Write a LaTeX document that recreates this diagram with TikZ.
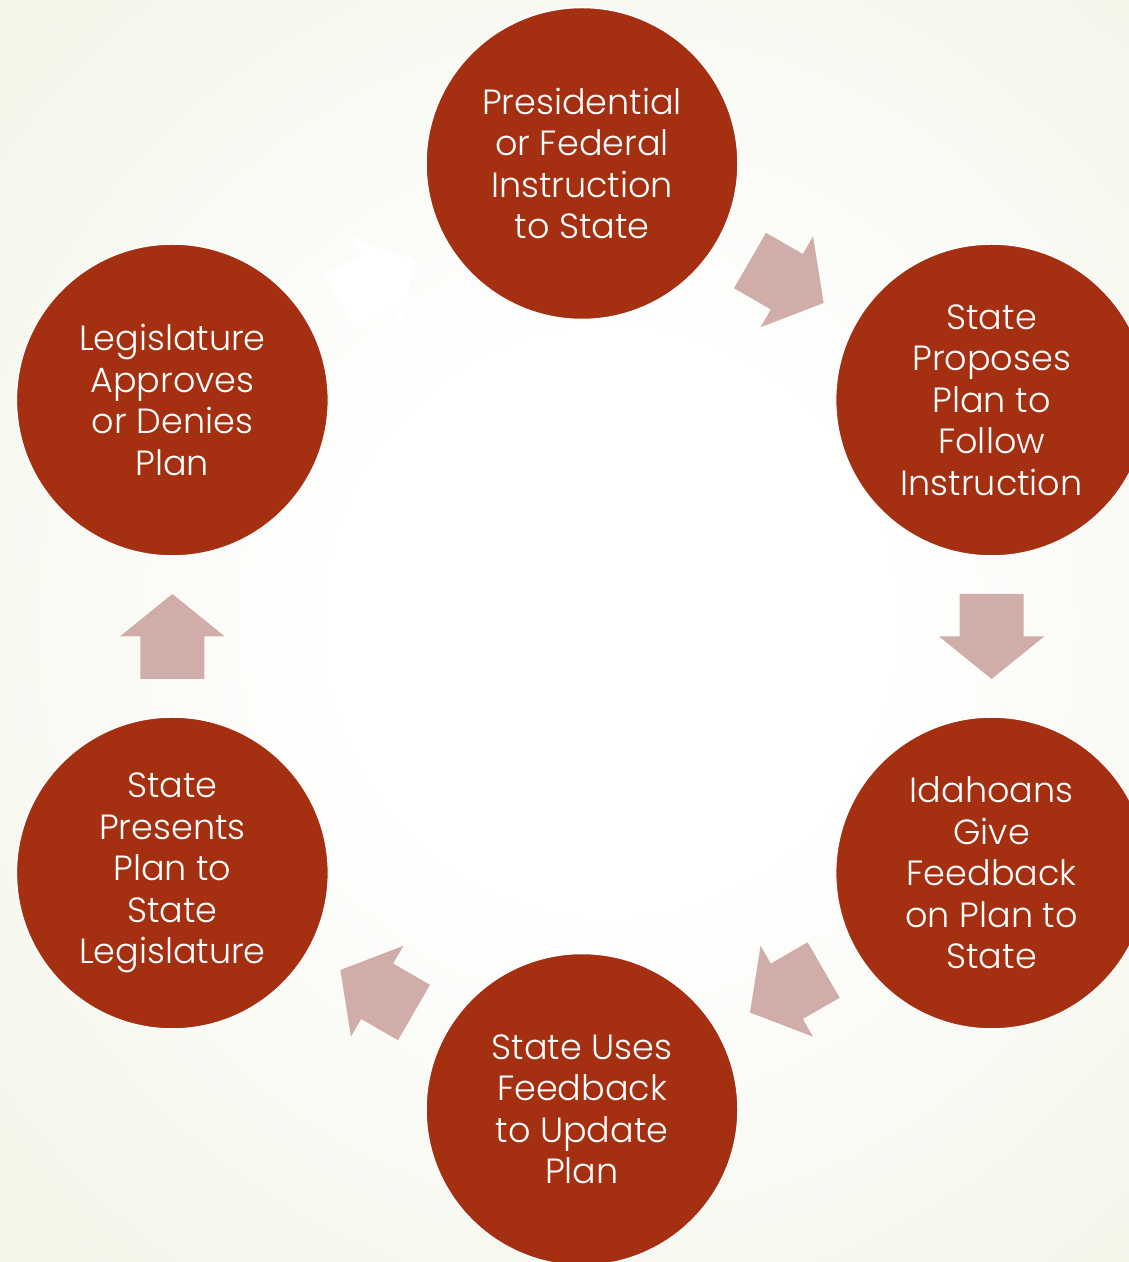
\documentclass[tikz,border=0pt]{standalone}
\usepackage{fontspec}
\setmainfont{Poppins Light}
\usetikzlibrary{calc}
\definecolor{circfill}{HTML}{A52F11}
\definecolor{arrfill}{HTML}{D0ADA9}
\definecolor{bgedge}{HTML}{ECF0DC}
\pgfdeclareradialshading{bgshade}{\pgfpoint{0bp}{0bp}}{color(0bp)=(white); color(10bp)=(white); color(44bp)=(bgedge); color(100bp)=(bgedge)}
\tikzset{
  stepcirc/.style={circle, fill=circfill, draw=white, line width=1.5pt, minimum size=312pt, inner sep=0pt,
    text=white, align=center, font=\fontsize{35}{41.5}\selectfont},
  blkarrow/.pic={\fill[pic actions] (-42.5,32) -- (0,32) -- (0,52.5) -- (42.5,0) -- (0,-52.5) -- (0,-32) -- (-42.5,-32) -- cycle;}
}
\begin{document}
\begin{tikzpicture}[x=1pt,y=1pt]
\useasboundingbox (0,0) rectangle (1129,1262);
\clip (0,0) rectangle (1129,1262);
\shade[shading=bgshade] (-40,-30) rectangle (1260,1310);
\coordinate (C) at (582,625.5);
\node[stepcirc] (n1) at ($(C)+(90:473)$) {Presidential\\or Federal\\Instruction\\to State};
\node[stepcirc] (n2) at ($(C)+(30:473)$) {State\\Proposes\\Plan to\\Follow\\Instruction};
\node[stepcirc] (n3) at ($(C)+(-30:473)$) {Idahoans\\Give\\Feedback\\on Plan to\\State};
\node[stepcirc] (n4) at ($(C)+(-90:473)$) {State Uses\\Feedback\\to Update\\Plan};
\node[stepcirc] (n5) at ($(C)+(-150:473)$) {State\\Presents\\Plan to\\State\\Legislature};
\node[stepcirc] (n6) at ($(C)+(150:473)$) {Legislature\\Approves\\or Denies\\Plan};
\pic[fill=arrfill, rotate=-30] at ($(n1.center)!0.5!(n2.center)$) {blkarrow};
\pic[fill=arrfill, rotate=-90] at ($(n2.center)!0.5!(n3.center)$) {blkarrow};
\pic[fill=arrfill, rotate=-150] at ($(n3.center)!0.5!(n4.center)$) {blkarrow};
\pic[fill=arrfill, rotate=150] at ($(n4.center)!0.5!(n5.center)$) {blkarrow};
\pic[fill=arrfill, rotate=90] at ($(n5.center)!0.5!(n6.center)$) {blkarrow};
\pic[fill=white, rotate=30] at ($(n6.center)!0.5!(n1.center)$) {blkarrow};
\end{tikzpicture}
\end{document}
